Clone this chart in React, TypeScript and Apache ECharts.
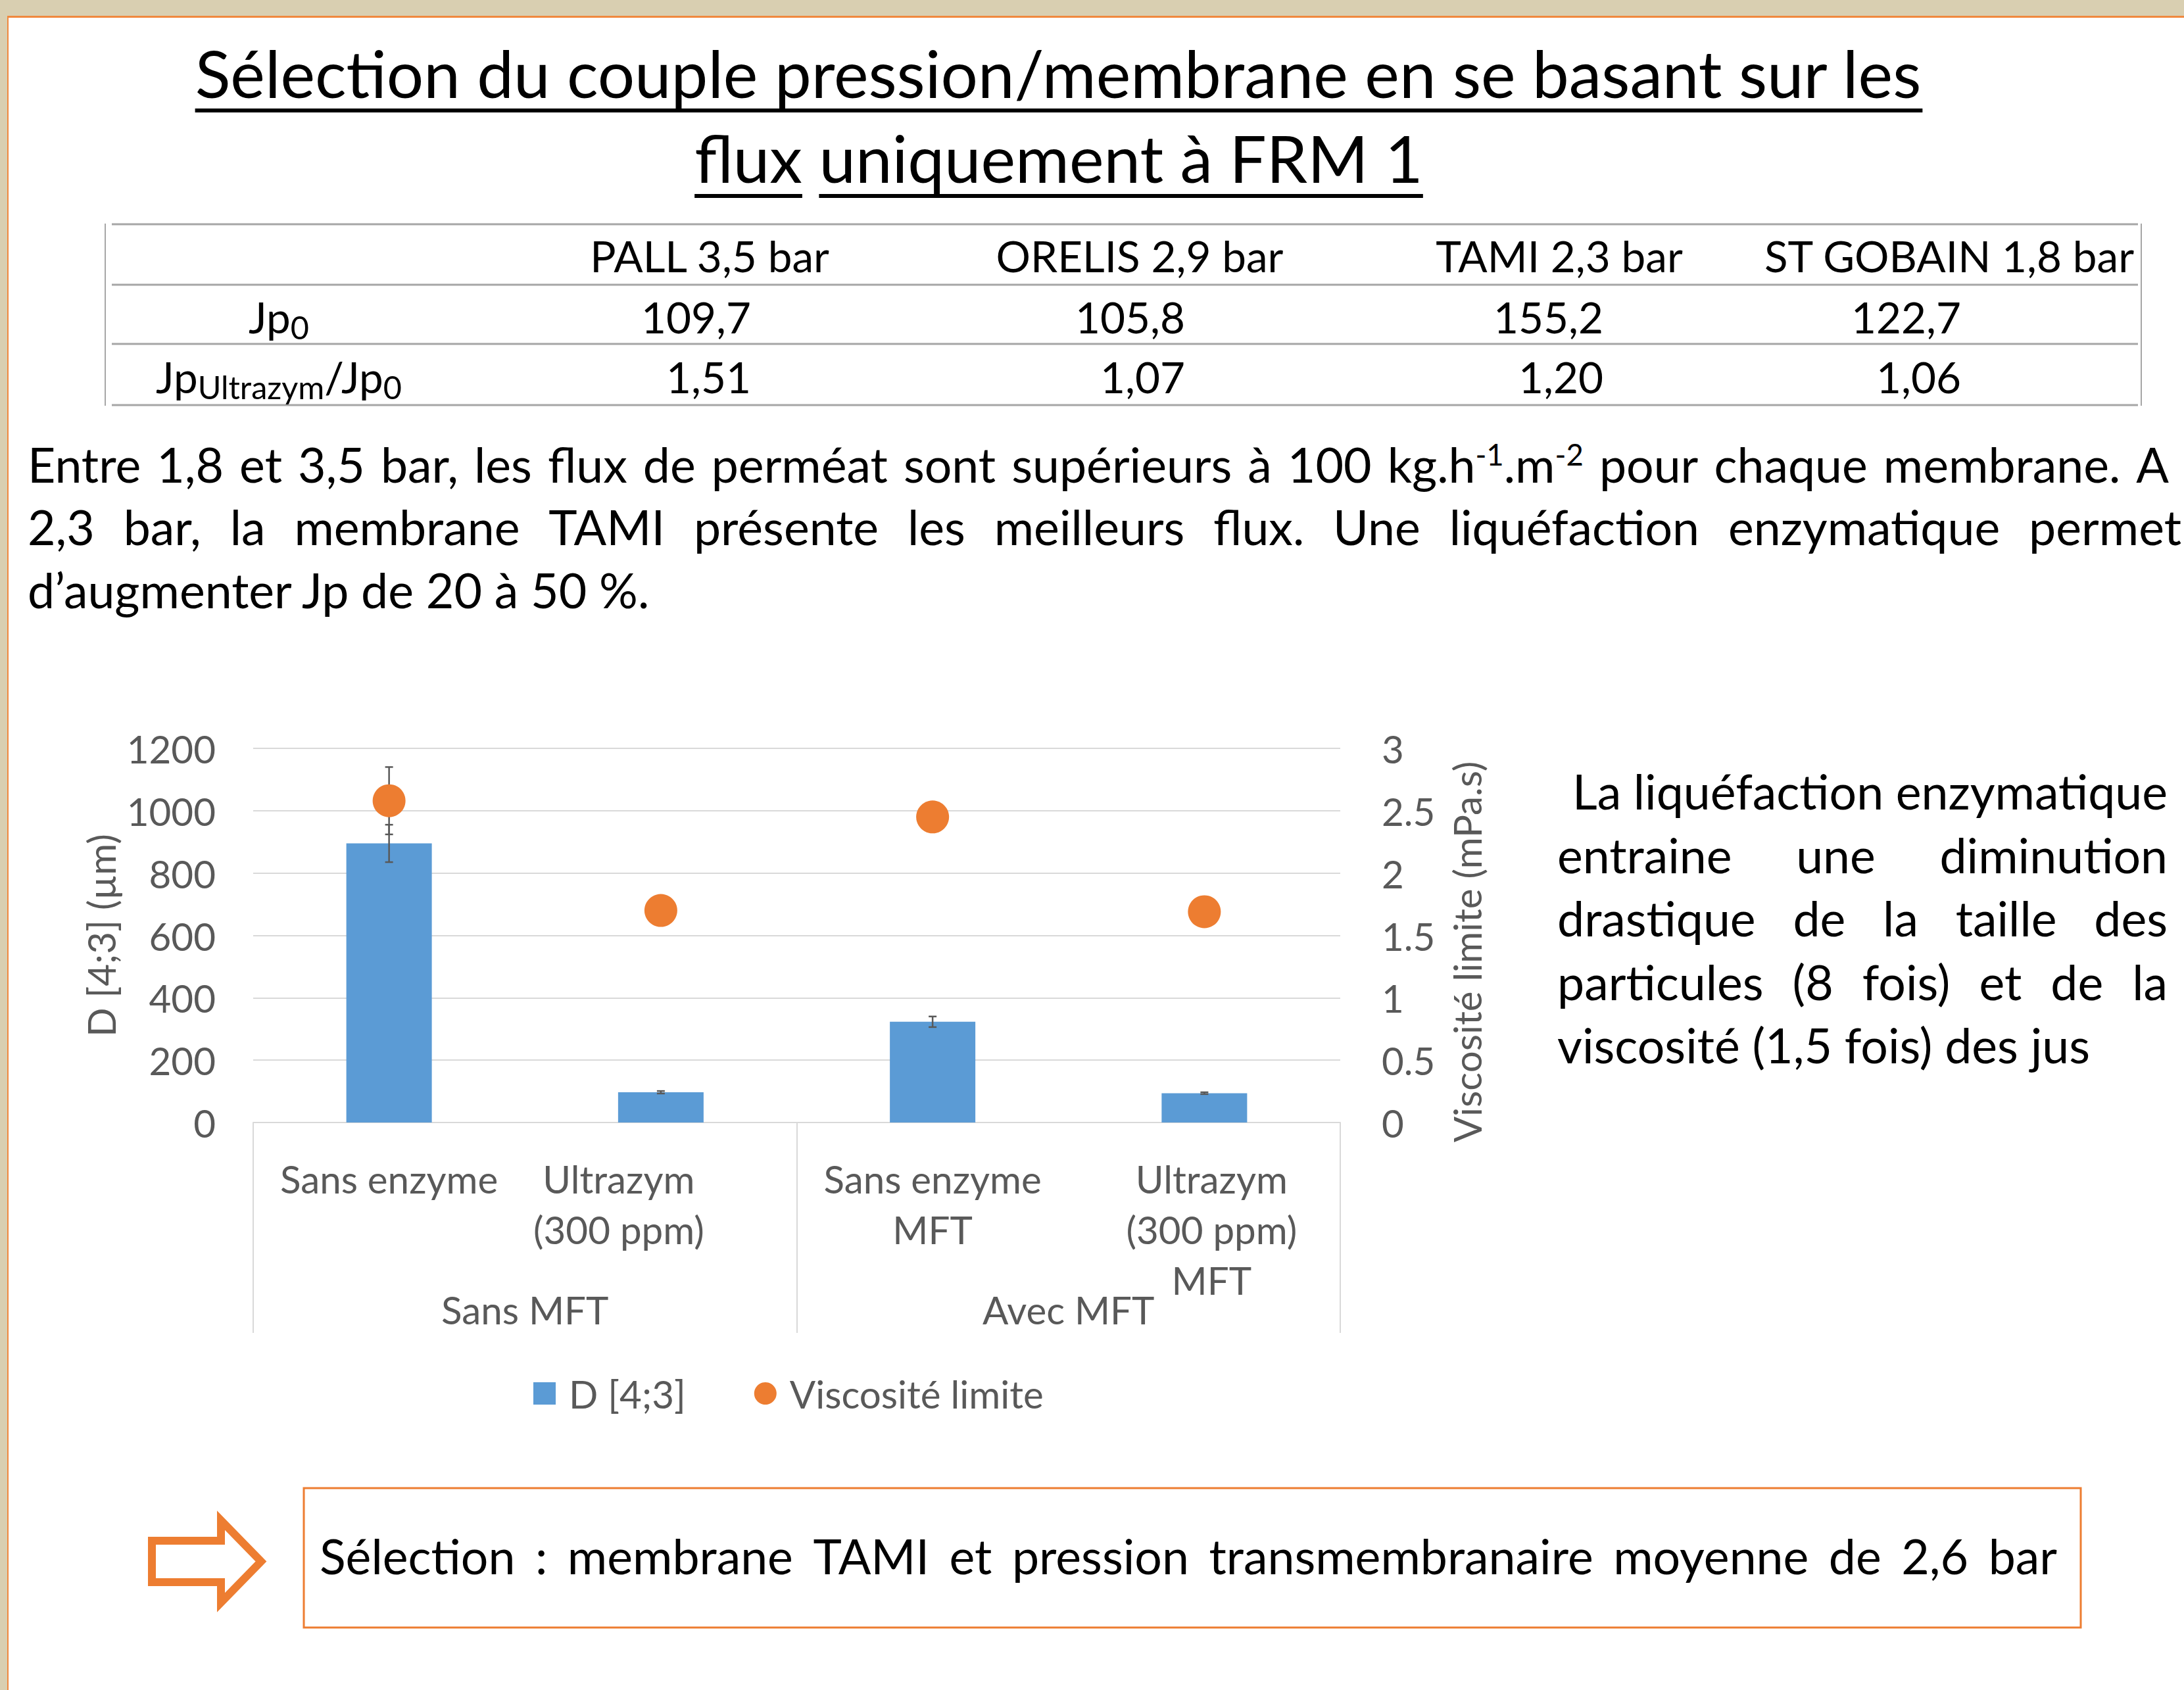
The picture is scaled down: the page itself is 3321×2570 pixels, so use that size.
import React, { useEffect, useRef } from 'react';
import * as echarts from 'echarts';

const W = 3321;
const H = 2570;
const FONT = 'Lato';

// ---------- chart data ----------
const categories = ['Sans enzyme', 'Ultrazym\n(300 ppm)', 'Sans enzyme\nMFT', 'Ultrazym\n(300 ppm)\nMFT'];
const groupLabels = ['Sans MFT', 'Avec MFT'];
const d43Values = [895, 97, 323, 94];
const d43Errors = [60, 4, 17, 3];
const viscosityValues = [2.58, 1.7, 2.45, 1.69];
const viscosityErrors = [0.27, 0, 0, 0];
const leftAxisTicks = { min: 0, max: 1200, interval: 200 };
const rightAxisTicks = { min: 0, max: 3, interval: 0.5 };
const seriesNames = ['D [4;3]', 'Viscosité limite'];
const axisTitles = ['D [4;3] (µm)', 'Viscosité limite (mPa.s)'];

// ---------- table data ----------
const tableHeaders = ['PALL 3,5 bar', 'ORELIS 2,9 bar', 'TAMI 2,3 bar', 'ST GOBAIN 1,8 bar'];
const jp0Values = ['109,7', '105,8', '155,2', '122,7'];
const jpRatioValues = ['1,51', '1,07', '1,20', '1,06'];

// ---------- slide texts ----------
const titleLines = ['Sélection du couple pression/membrane en se basant sur les', 'flux uniquement à FRM 1'];
const para1 = 'Entre 1,8 et 3,5 bar, les flux de perméat sont supérieurs à 100';
const para1Unit = ['kg.h', '-1', '.m', '-2'];
const para1End = 'pour chaque membrane. A';
const para2 = '2,3 bar, la membrane TAMI présente les meilleurs flux. Une liquéfaction enzymatique permet';
const para3 = 'd’augmenter Jp de 20 à 50 %.';
const sideLines = [
  'La liquéfaction enzymatique',
  'entraine une diminution',
  'drastique de la taille des',
  'particules (8 fois) et de la',
  'viscosité (1,5 fois) des jus',
];
const boxText = 'Sélection : membrane TAMI et pression transmembranaire moyenne de 2,6 bar';

// ---------- text measuring helpers ----------
let ctx: CanvasRenderingContext2D | null = null;
function tw(text: string, size: number): number {
  if (!ctx) ctx = document.createElement('canvas').getContext('2d');
  ctx!.font = `normal ${size}px ${FONT}`;
  return ctx!.measureText(text).width;
}
function fit(text: string, width: number): number {
  return (100 * width) / tw(text, 100);
}
function avg(a: number[]): number {
  return a.reduce((s, v) => s + v, 0) / a.length;
}

const CAP = 0.358;
const CENTRAL = 0.387;

type Seg = { t: string; k?: 'sub' | 'sup' };
type Word = string | Seg[];

function segSize(s: number, k?: string) {
  return k === 'sub' ? s * 0.74 : k === 'sup' ? s * 0.62 : s;
}
function segShift(s: number, k?: string) {
  return k === 'sub' ? s * 0.14 : k === 'sup' ? -s * 0.36 : 0;
}
function wordSegs(w: Word): Seg[] {
  return typeof w === 'string' ? [{ t: w }] : w;
}
function wordWidth(w: Word, s: number) {
  return wordSegs(w).reduce((a, g) => a + tw(g.t, segSize(s, g.k)), 0);
}
function segTexts(out: any[], segs: Seg[], x: number, cap: number, s: number, fill = '#000') {
  const base = cap + CAP * s;
  let cx = x;
  for (const g of segs) {
    const fs = segSize(s, g.k);
    out.push({
      type: 'text',
      x: cx,
      y: base + segShift(s, g.k) - CENTRAL * fs,
      silent: true,
      style: { text: g.t, fontSize: fs, fontFamily: FONT, fill, align: 'left', verticalAlign: 'middle' },
    });
    cx += tw(g.t, fs);
  }
  return cx;
}
function placeWords(out: any[], words: Word[], x0: number, x1: number, cap: number, s: number, mode: 'justify' | 'left') {
  const widths = words.map((w) => wordWidth(w, s));
  const sum = widths.reduce((a, b) => a + b, 0);
  const gap = mode === 'justify' && words.length > 1 ? (x1 - x0 - sum) / (words.length - 1) : tw(' ', s);
  let x = x0;
  words.forEach((w, i) => {
    segTexts(out, wordSegs(w), x, cap, s);
    x += widths[i] + gap;
  });
}
function placeSegs(out: any[], segs: Seg[], x: number, cap: number, s: number, align: 'left' | 'center' | 'right') {
  const w = segs.reduce((a, g) => a + tw(g.t, segSize(s, g.k)), 0);
  const x0 = align === 'left' ? x : align === 'center' ? x - w / 2 : x - w;
  segTexts(out, segs, x0, cap, s);
}

function buildOption() {
  const labelColor = '#595959';
  const gridColor = '#D9D9D9';
  const orange = '#ED7D31';

  const cs = avg([fit('Sans enzyme', 332), fit('1200', 131), fit('Viscosité limite', 392), fit('D [4;3] (µm)', 313)]);
  const ts = fit(titleLines[0], 2627);
  const headerWidths = [360, 436, 384, 562];
  const tbs = avg(tableHeaders.map((h, i) => fit(h, headerWidths[i])));
  const bs = avg([fit(para3, 947), fit(sideLines[4], 812)]);

  const g: any[] = [];
  // slide frame
  g.push({ type: 'rect', silent: true, shape: { x: 0, y: 0, width: W, height: 24 }, style: { fill: '#D9CFB1' } });
  g.push({ type: 'rect', silent: true, shape: { x: 0, y: 0, width: 11, height: H }, style: { fill: '#D9CFB1' } });
  g.push({ type: 'rect', silent: true, shape: { x: 11, y: 24, width: W - 11, height: 3 }, style: { fill: '#F0883E' } });
  g.push({ type: 'rect', silent: true, shape: { x: 11, y: 24, width: 2, height: H - 24 }, style: { fill: '#F0883E' } });

  // title
  const tcx = 1610;
  const t1w = tw(titleLines[0], ts);
  placeSegs(g, [{ t: titleLines[0] }], tcx, 113, ts, 'center');
  g.push({ type: 'rect', silent: true, shape: { x: tcx - t1w / 2, y: 165, width: t1w, height: 6 }, style: { fill: '#000' } });
  const t2w = tw(titleLines[1], ts);
  const t2x = tcx - t2w / 2;
  placeSegs(g, [{ t: titleLines[1] }], tcx, 242, ts, 'center');
  const fluxW = tw('flux', ts);
  const fluxSW = tw('flux ', ts);
  g.push({ type: 'rect', silent: true, shape: { x: t2x, y: 295, width: fluxW, height: 6 }, style: { fill: '#000' } });
  g.push({ type: 'rect', silent: true, shape: { x: t2x + fluxSW, y: 295, width: t2w - fluxSW, height: 6 }, style: { fill: '#000' } });

  // table
  const tableLineColor = '#A6A6A6';
  [341, 433, 523, 616].forEach((y) =>
    g.push({ type: 'line', silent: true, shape: { x1: 170, y1: y, x2: 3251, y2: y }, style: { stroke: tableLineColor, lineWidth: 3 } })
  );
  [160, 3256].forEach((x) =>
    g.push({ type: 'line', silent: true, shape: { x1: x, y1: 340, x2: x, y2: 617 }, style: { stroke: tableLineColor, lineWidth: 2 } })
  );
  const headerCenters = [1080, 1733, 2371, 2965];
  const valueRights = [1142, 1802, 2438, 2982];
  tableHeaders.forEach((h, i) => placeSegs(g, [{ t: h }], headerCenters[i], 390, tbs, 'center'));
  jp0Values.forEach((v, i) => placeSegs(g, [{ t: v }], valueRights[i], 483, tbs, 'right'));
  jpRatioValues.forEach((v, i) => placeSegs(g, [{ t: v }], valueRights[i], 574, tbs, 'right'));
  placeSegs(g, [{ t: 'Jp' }, { t: '0', k: 'sub' }], 424, 483, tbs, 'center');
  placeSegs(g, [{ t: 'Jp' }, { t: 'Ultrazym', k: 'sub' }, { t: '/Jp' }, { t: '0', k: 'sub' }], 424, 574, tbs, 'center');

  // paragraph
  const p1Words: Word[] = [
    ...para1.split(' '),
    [{ t: para1Unit[0] }, { t: para1Unit[1], k: 'sup' }, { t: para1Unit[2] }, { t: para1Unit[3], k: 'sup' }],
    ...para1End.split(' '),
  ];
  placeWords(g, p1Words, 42, 3298, 708, bs, 'justify');
  placeWords(g, para2.split(' '), 42, 3317, 803, bs, 'justify');
  placeSegs(g, [{ t: para3 }], 42, 899, bs, 'left');

  // side text
  const sideCaps = [1205, 1302, 1398, 1495, 1591];
  sideLines.forEach((line, i) => {
    const x0 = i === 0 ? 2391 : 2368;
    if (i < sideLines.length - 1) placeWords(g, line.split(' '), x0, 3296, sideCaps[i], bs, 'justify');
    else placeSegs(g, [{ t: line }], x0, sideCaps[i], bs, 'left');
  });

  // arrow + box
  g.push({
    type: 'polygon',
    silent: true,
    shape: { points: [[231, 2343], [336, 2343], [336, 2312], [397, 2374.5], [336, 2437], [336, 2406], [231, 2406]] },
    style: { fill: '#fff', stroke: orange, lineWidth: 12, lineJoin: 'miter' },
  });
  g.push({ type: 'rect', silent: true, shape: { x: 462, y: 2263, width: 2702, height: 212 }, style: { fill: 'none', stroke: orange, lineWidth: 3 } });
  placeWords(g, boxText.split(' '), 486, 3128, 2368, bs, 'justify');

  const labelLH = 77;
  const axisY = 1707;

  const errRender = (params: any, api: any) => {
    const i = api.value(0);
    const lo = api.value(1);
    const hi = api.value(2);
    const a = api.coord([i, hi]);
    const b = api.coord([i, lo]);
    const hw = 6;
    const st = { stroke: '#595959', lineWidth: 2.5 };
    return {
      type: 'group',
      children: [
        { type: 'line', shape: { x1: a[0], y1: a[1], x2: b[0], y2: b[1] }, style: st },
        { type: 'line', shape: { x1: a[0] - hw, y1: a[1], x2: a[0] + hw, y2: a[1] }, style: st },
        { type: 'line', shape: { x1: b[0] - hw, y1: b[1], x2: b[0] + hw, y2: b[1] }, style: st },
      ],
    };
  };

  const axisFont = { fontSize: cs, color: labelColor, fontFamily: FONT };

  return {
    animation: false,
    backgroundColor: '#ffffff',
    textStyle: { fontFamily: FONT },
    grid: { left: 385, top: 1138, width: 1653, height: axisY - 1138, containLabel: false },
    legend: {
      left: 811,
      top: 2090,
      padding: 0,
      itemWidth: 34,
      itemHeight: 34,
      itemGap: 104,
      textStyle: { ...axisFont, lineHeight: 34, padding: [0, 0, 0, 15] },
      data: [
        { name: seriesNames[0], icon: 'rect' },
        { name: seriesNames[1], icon: 'circle' },
      ],
    },
    xAxis: [
      {
        type: 'category',
        data: categories,
        position: 'bottom',
        axisLine: { show: true, lineStyle: { color: gridColor, width: 2 } },
        axisTick: { show: false },
        splitLine: { show: false },
        axisLabel: {
          ...axisFont,
          interval: 0,
          lineHeight: labelLH,
          margin: 1792 - axisY - labelLH / 2,
          formatter: (value: string, index: number) => {
            if (index === 1) return value.split('\n').map((l) => `{s|${l}}`).join('\n');
            if (index === 3) return value.split('\n').map((l) => `{t|${l}}`).join('\n');
            return value;
          },
          rich: {
            s: { ...axisFont, lineHeight: labelLH, padding: [0, 128, 0, 0] },
            t: { ...axisFont, lineHeight: labelLH, padding: [0, 0, 0, 22] },
          },
        },
      },
      {
        type: 'category',
        data: groupLabels,
        position: 'bottom',
        offset: 0,
        axisLine: { show: false },
        axisTick: { show: true, length: 320, lineStyle: { color: gridColor, width: 2 } },
        splitLine: { show: false },
        axisLabel: { ...axisFont, interval: 0, lineHeight: labelLH, margin: 1991 - axisY - labelLH / 2 },
      },
    ],
    yAxis: [
      {
        type: 'value',
        ...leftAxisTicks,
        position: 'left',
        axisLine: { show: false },
        axisTick: { show: false },
        axisLabel: { ...axisFont, margin: 57, formatter: (v: number) => String(v) },
        splitLine: { show: true, lineStyle: { color: gridColor, width: 2 } },
        name: axisTitles[0],
        nameLocation: 'middle',
        nameRotate: 90,
        nameGap: 385 - 153 - cs / 2,
        nameTextStyle: { ...axisFont },
      },
      {
        type: 'value',
        ...rightAxisTicks,
        position: 'right',
        axisLine: { show: false },
        axisTick: { show: false },
        axisLabel: { ...axisFont, margin: 63, formatter: (v: number) => String(v) },
        splitLine: { show: false },
        name: axisTitles[1],
        nameLocation: 'middle',
        nameRotate: 90,
        nameGap: 2230 - cs / 2 - 2038,
        nameTextStyle: { ...axisFont, padding: [0, 50, 0, 0] },
      },
    ],
    series: [
      {
        name: seriesNames[0],
        type: 'bar',
        xAxisIndex: 0,
        yAxisIndex: 0,
        data: d43Values,
        barWidth: 130,
        itemStyle: { color: '#5B9BD5' },
        z: 2,
      },
      {
        type: 'custom',
        xAxisIndex: 0,
        yAxisIndex: 0,
        silent: true,
        z: 3,
        encode: { x: 0, y: [1, 2] },
        data: d43Values.map((v, i) => [i, v - d43Errors[i], v + d43Errors[i]]),
        renderItem: errRender,
      },
      {
        type: 'custom',
        xAxisIndex: 0,
        yAxisIndex: 1,
        silent: true,
        z: 3,
        encode: { x: 0, y: [1, 2] },
        data: viscosityValues
          .map((v, i) => [i, v - viscosityErrors[i], v + viscosityErrors[i]])
          .filter((_, i) => viscosityErrors[i] > 0),
        renderItem: errRender,
      },
      {
        name: seriesNames[1],
        type: 'scatter',
        xAxisIndex: 0,
        yAxisIndex: 1,
        data: viscosityValues,
        symbol: 'circle',
        symbolSize: 50,
        itemStyle: { color: orange, opacity: 1 },
        z: 4,
      },
    ],
    graphic: { elements: g },
  };
}

export default function App() {
  const ref = useRef<HTMLDivElement>(null);
  useEffect(() => {
    document.body.style.margin = '0';
    document.body.style.overflow = 'hidden';
    const chart = echarts.init(ref.current!, null, { renderer: 'svg', width: W, height: H });
    chart.setOption(buildOption() as any);
    return () => chart.dispose();
  }, []);
  return <div ref={ref} style={{ width: W, height: H, position: 'absolute', left: 0, top: 0, background: '#fff' }} />;
}
